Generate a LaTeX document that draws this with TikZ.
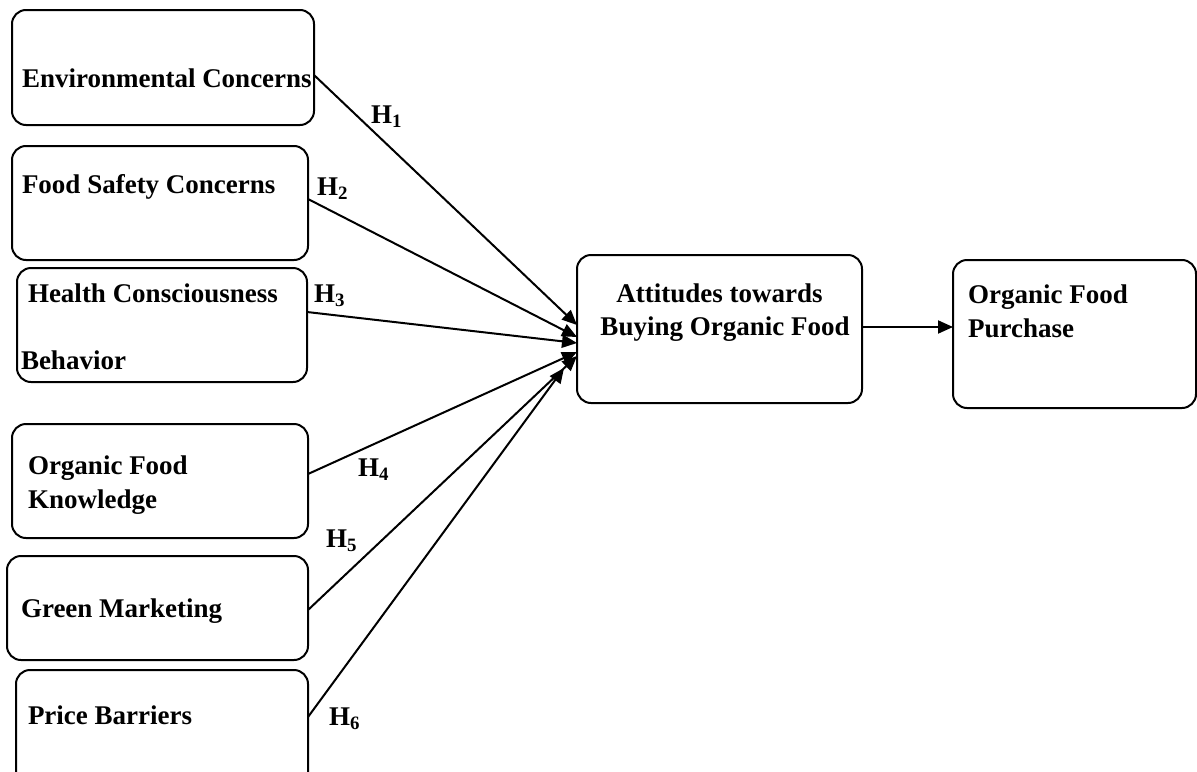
\documentclass[tikz,border=0pt]{standalone}
\usepackage{fontspec}
\setmainfont{Liberation Serif}
\usetikzlibrary{arrows.meta}

\begin{document}
\begin{tikzpicture}[->,>={Triangle[length=7.5pt,width=6.5pt]},x=0.5pt,y=-0.5pt,line width=1pt]
  \tikzstyle{every node}=[font=\bfseries\fontsize{13.5}{16.5}\selectfont]
  \tikzstyle{box}=[draw,rounded corners=7pt,inner sep=0pt,outer sep=0pt]
  \tikzstyle{txt}=[anchor=base west,inner sep=0pt]
  \tikzstyle{ctxt}=[anchor=base,inner sep=0pt]
  \useasboundingbox (0,0) rectangle (1197,771);

  % boxes
  \node[box,minimum width=151pt,minimum height=57.5pt] (EC)  at (163,67.5)   {};
  \node[box,minimum width=148pt,minimum height=57pt]   (FSC) at (160,203)    {};
  \node[box,minimum width=145pt,minimum height=57pt]   (HCB) at (162,325)    {};
  \node[box,minimum width=148pt,minimum height=57pt]   (OFK) at (160,481)    {};
  \node[box,minimum width=150.5pt,minimum height=52pt] (GM)  at (157.5,608)  {};
  \node[box,minimum width=146pt,minimum height=60pt]   (PB)  at (162,730)    {};
  \node[box,minimum width=142.5pt,minimum height=74pt] (ATT) at (719.5,329)  {};
  \node[box,minimum width=121.5pt,minimum height=74pt] (OFP) at (1074.5,334) {};

  % texts
  \node[txt]  (ECa)  at (21,87)     {Environmental Concerns};
  \node[txt]  (FSCa) at (21,193)    {Food Safety Concerns};
  \node[txt]  (HCBa) at (27,302)    {Health Consciousness};
  \node[txt]  (HCBb) at (20,369)    {Behavior};
  \node[txt]  (OFKa) at (27,474)    {Organic Food};
  \node[txt]  (OFKb) at (27,508)    {Knowledge};
  \node[txt]  (GMa)  at (20,617)    {Green Marketing};
  \node[txt]  (PBa)  at (27,724)    {Price Barriers};
  \node[ctxt] (ATTa) at (719.5,302) {Attitudes towards};
  \node[ctxt] (ATTb) at (725,335)   {Buying Organic Food};
  \node[txt]  (OFPa) at (967,303)   {Organic Food};
  \node[txt]  (OFPb) at (967,337)   {Purchase};

  % hypotheses
  \node[txt] (H1) at (370,123) {H\textsubscript{1}};
  \node[txt] (H2) at (316,195) {H\textsubscript{2}};
  \node[txt] (H3) at (313,302) {H\textsubscript{3}};
  \node[txt] (H4) at (357,476) {H\textsubscript{4}};
  \node[txt] (H5) at (325,547) {H\textsubscript{5}};
  \node[txt] (H6) at (328,725) {H\textsubscript{6}};

  \path ([yshift=-3.75pt]EC.east) edge ([yshift=2pt]ATT.west)
        ([yshift=2pt]FSC.east)    edge ([yshift=-4pt]ATT.west)
        ([yshift=6.5pt]HCB.east)  edge ([yshift=-7pt]ATT.west)
        ([yshift=3.5pt]OFK.east)  edge ([yshift=-11.5pt]ATT.west)
        ([yshift=-1pt]GM.east)    edge ([yshift=-13.5pt]ATT.west)
        ([yshift=6.5pt]PB.east)   edge ([xshift=-6.5pt,yshift=-19.5pt]ATT.west)
        ([yshift=1pt]ATT.east)    edge ([yshift=1pt]ATT.east -| OFP.west);
\end{tikzpicture}
\end{document}
